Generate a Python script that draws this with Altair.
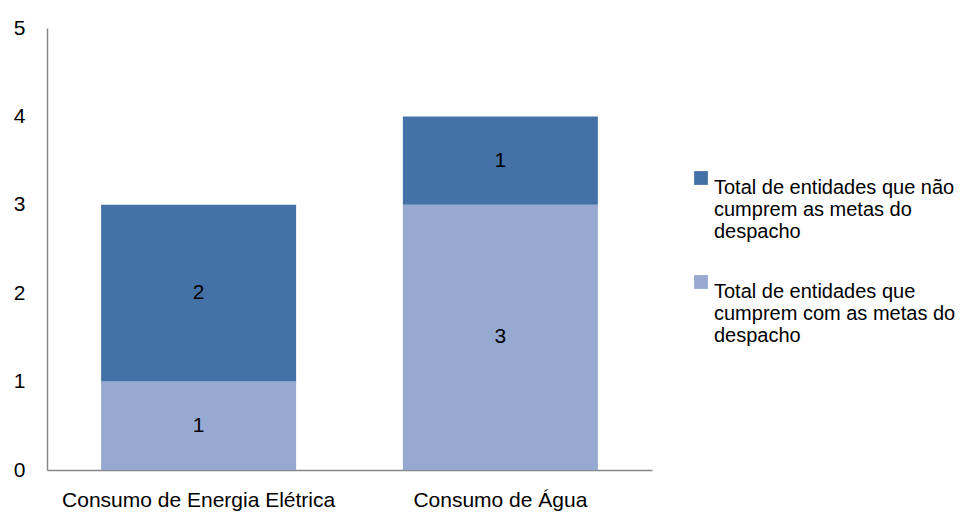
import altair as alt
import pandas as pd

categories = ["Consumo de Energia Elétrica", "Consumo de Água"]
series = [
    "Total de entidades que não cumprem as metas do despacho",
    "Total de entidades que cumprem com as metas do despacho",
]
nao_cumprem = [2, 1]
cumprem = [1, 3]
y_ticks = [0, 1, 2, 3, 4, 5]

rows = []
for i, c in enumerate(categories):
    rows.append({"cat": c, "serie": series[1], "value": cumprem[i], "ord": 0})
    rows.append({"cat": c, "serie": series[0], "value": nao_cumprem[i], "ord": 1})
df = pd.DataFrame(rows)

FONT = "Liberation Sans Narrow, Arial Narrow, Liberation Sans"
DARK = "#4472A7"
LIGHT = "#95A9D1"

label_expr = (
    "datum.label == '" + series[0] + "' ? ['Total de entidades que não','cumprem as metas do','despacho'] : "
    "['Total de entidades que','cumprem com as metas do','despacho']"
)

base = alt.Chart(df)

bars = base.mark_bar(size=195).encode(
    x=alt.X("cat:N", sort=categories, title=None,
            axis=alt.Axis(labelAngle=0, labelFontSize=21, labelFont=FONT, labelColor="#000",
                          ticks=False, labelPadding=19, domainColor="#888888", domainWidth=1.5,
                          labelLimit=400)),
    y=alt.Y("value:Q", stack="zero", title=None,
            scale=alt.Scale(domain=[0, 5], nice=False),
            axis=alt.Axis(values=y_ticks, format="d", grid=False, ticks=False, labelFontSize=21,
                          labelFont=FONT, labelColor="#000", labelPadding=22,
                          domainColor="#888888", domainWidth=1.5)),
    color=alt.Color("serie:N", sort=series,
                    scale=alt.Scale(domain=series, range=[DARK, LIGHT]),
                    legend=alt.Legend(title=None, orient="none", legendX=644, legendY=140,
                                      symbolType="square", symbolSize=190, symbolStrokeWidth=0,
                                      labelFontSize=20, labelFont=FONT, labelColor="#000",
                                      labelExpr=label_expr, labelLimit=400, labelOffset=3,
                                      labelBaseline="top", rowPadding=30)),
    order=alt.Order("ord:Q", sort="ascending"),
)

texts = base.transform_stack(
    stack="value", groupby=["cat"], sort=[alt.SortField("ord", order="ascending")], as_=["y0", "y1"]
).transform_calculate(
    mid="(datum.y0 + datum.y1) / 2"
).mark_text(fontSize=21, font=FONT, color="#000").encode(
    x=alt.X("cat:N", sort=categories),
    y=alt.Y("mid:Q"),
    text=alt.Text("value:Q"),
)

chart = (bars + texts).properties(
    width=605, height=442,
    autosize=alt.AutoSizeParams(type="none"),
    padding={"left": 39, "top": 20, "right": 319, "bottom": 44},
).configure_view(stroke=None).configure_scale(bandPaddingInner=0.355, bandPaddingOuter=0.18)

chart.save("out.html", embed_options={"renderer": "svg", "actions": False})
